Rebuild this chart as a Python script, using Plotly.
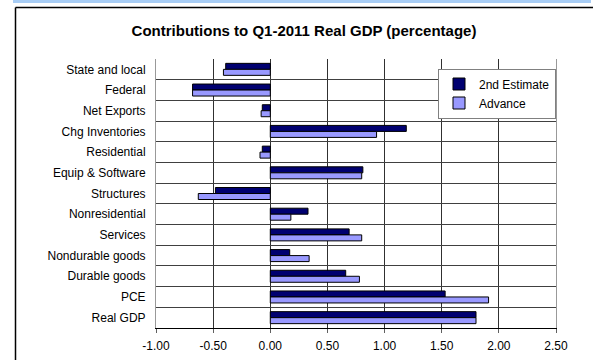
import plotly.graph_objects as go

categories = ["State and local", "Federal", "Net Exports", "Chg Inventories", "Residential",
              "Equip & Software", "Structures", "Nonresidential", "Services",
              "Nondurable goods", "Durable goods", "PCE", "Real GDP"]
second_estimate = [-0.39, -0.68, -0.07, 1.19, -0.07, 0.81, -0.48, 0.33, 0.69, 0.17, 0.66, 1.53, 1.80]
advance = [-0.41, -0.68, -0.08, 0.93, -0.09, 0.80, -0.63, 0.18, 0.80, 0.34, 0.78, 1.91, 1.80]
x_ticks = [-1.0, -0.5, 0.0, 0.5, 1.0, 1.5, 2.0, 2.5]
x_tick_labels = [f"{v:.2f}" for v in x_ticks]

FONT = "Arial, 'Liberation Sans', sans-serif"

fig = go.Figure()
fig.add_trace(go.Bar(y=categories, x=second_estimate, orientation="h", name="2nd Estimate",
                     marker=dict(color="#000070", line=dict(color="#000000", width=1))))
fig.add_trace(go.Bar(y=categories, x=advance, orientation="h", name="Advance",
                     marker=dict(color="#9999ff", line=dict(color="#000000", width=1))))

fig.update_layout(
    width=593, height=360,
    margin=dict(l=156, r=37, t=59, b=32),
    paper_bgcolor="white", plot_bgcolor="white",
    barmode="group", bargap=0.42, bargroupgap=0,
    font=dict(family=FONT, size=12, color="#000000"),
    title=dict(text="<b>Contributions to Q1-2011 Real GDP (percentage)</b>",
               x=304 / 593, xanchor="center", y=1 - 31 / 360, yanchor="middle",
               font=dict(family=FONT, size=15, color="#000000")),
    showlegend=True,
    legend=dict(x=(497 - 156) / 400, xanchor="center", y=1 - (93.5 - 59) / 269, yanchor="middle",
                bgcolor="white", bordercolor="#808080", borderwidth=1,
                font=dict(family=FONT, size=12, color="#000000"),
                itemwidth=30, tracegroupgap=0),
    xaxis=dict(range=[-1.0, 2.5], tickvals=x_ticks, ticktext=x_tick_labels, automargin=False,
               showgrid=True, gridcolor="#303030", gridwidth=1, zeroline=False,
               showline=True, linecolor="#000000", linewidth=1,
               ticks="outside", ticklen=4, tickcolor="#606060", ticklabelstandoff=3,
               tickfont=dict(family=FONT, size=12, color="#000000")),
    yaxis=dict(type="category", categoryorder="array", categoryarray=categories,
               autorange="reversed", tickson="boundaries", automargin=False,
               showgrid=True, gridcolor="#404040", gridwidth=1,
               showline=True, linecolor="#999999", linewidth=1, mirror=True,
               ticks="", ticklabelstandoff=7,
               tickfont=dict(family=FONT, size=12, color="#000000")),
    shapes=[
        dict(type="rect", xref="paper", yref="paper",
             x0=(13 - 156) / 400, x1=(591 - 156) / 400,
             y0=1 + (59 - 3) / 269, y1=1 + (59 + 1) / 269,
             fillcolor="#a8cdf5", line=dict(width=0), layer="below"),
        dict(type="line", xref="paper", yref="paper",
             x0=(15.5 - 156) / 400, x1=(600 - 156) / 400,
             y0=1 + (59 - 7.5) / 269, y1=1 + (59 - 7.5) / 269,
             line=dict(color="#000000", width=1.5)),
        dict(type="line", xref="paper", yref="paper",
             x0=(15.5 - 156) / 400, x1=(15.5 - 156) / 400,
             y0=1 + (59 - 7.5) / 269, y1=-0.2,
             line=dict(color="#000000", width=1.5)),
    ],
)

fig.write_html("out.html", config={"displayModeBar": False},
               post_script="document.body.style.margin='0';document.body.style.overflow='hidden';")
